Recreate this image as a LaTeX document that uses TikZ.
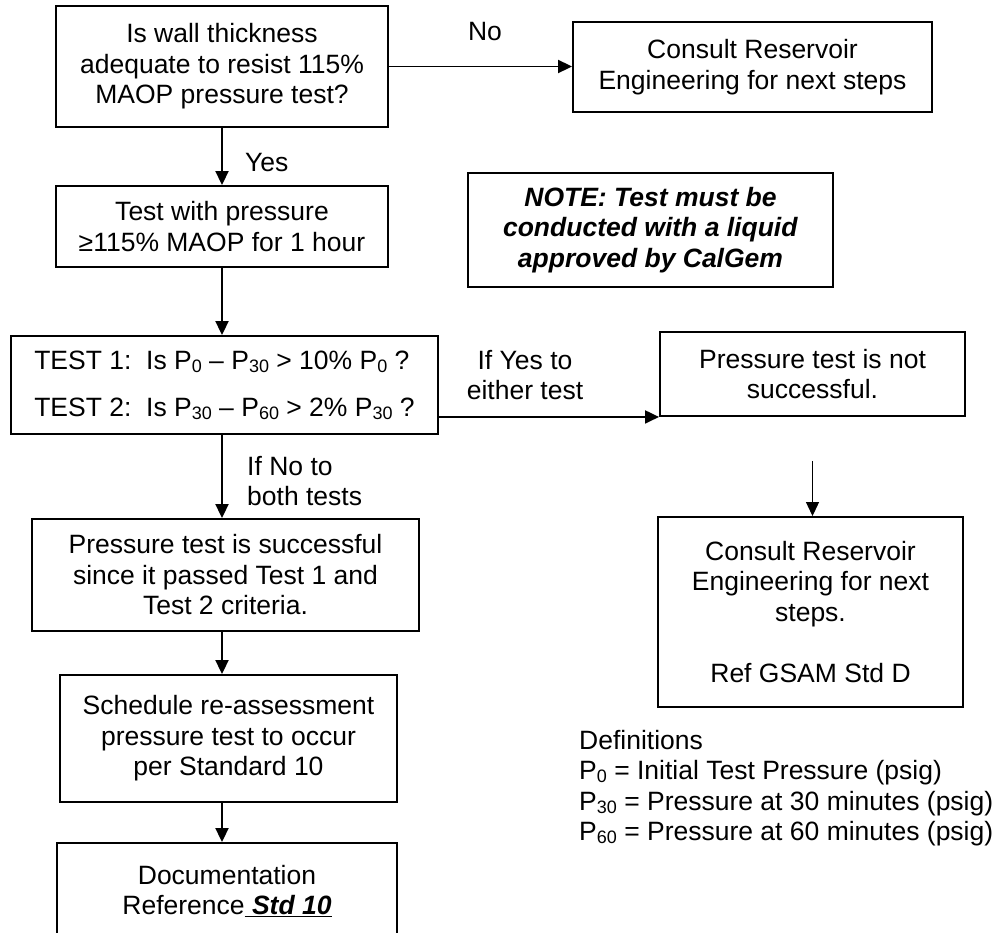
\documentclass[tikz,border=0pt]{standalone}
\usepackage{fontspec}
\setmainfont{Liberation Sans}
\usetikzlibrary{arrows.meta}

% small lowered figures for pressure subscripts
\newcommand\sbs[1]{\raisebox{-3pt}{\fontsize{18}{18}\selectfont #1}}

\begin{document}
\begin{tikzpicture}[x=1pt,y=-1pt,
  txt/.style={font=\fontsize{26.5}{30.5}\selectfont, inner sep=0pt},
  box/.style={txt, draw, line width=1.9pt, align=center},
  lbl/.style={txt, align=center},
  flow/.style={line width=1.9pt, -{Triangle[length=14pt,width=13pt]}},
  thinflow/.style={line width=1.1pt, -{Triangle[length=14pt,width=13pt]}}]

\clip (0,0) rectangle (995,932);
\fill[white] (0,0) rectangle (995,932);

% main column
\node[box, minimum width=332pt, minimum height=121pt] (wall) at (222,66.5)
  {Is wall thickness\\adequate to resist 115\%\\MAOP pressure test?};
\node[box, minimum width=332pt, minimum height=81pt] (hold) at (222,226.5)
  {Test with pressure\\≥115\% MAOP for 1 hour};
\node[box, align=left, minimum width=427pt, minimum height=98pt] (tests) at (224.5,385)
  {TEST 1:\ \ Is P\sbs{0} – P\sbs{30} > 10\% P\sbs{0} ?\\[16.5pt]TEST 2:\ \ Is P\sbs{30} – P\sbs{60} > 2\% P\sbs{30} ?};
\node[box, minimum width=387pt, minimum height=112pt] (pass) at (225.5,575)
  {Pressure test is successful\\since it passed Test 1 and\\Test 2 criteria.};
\node[box, minimum width=337pt, minimum height=127pt] (sched) at (228.5,738.5)
  {Schedule re-assessment\\pressure test to occur\\per Standard 10};
\node[box, minimum width=340pt, minimum height=96pt] (docs) at (227,891)
  {Documentation\\Reference\underline{\textbf{\textit{\ Std 10}}}};

% right column
\node[box, minimum width=359pt, minimum height=90pt] (consultA) at (752.5,67)
  {Consult Reservoir\\Engineering for next steps};
\node[box, minimum width=365pt, minimum height=114pt] (note) at (650.5,230)
  {\textbf{\textit{NOTE: Test must be}}\\\textbf{\textit{conducted with a liquid}}\\\textbf{\textit{approved by CalGem}}};
\node[box, minimum width=305pt, minimum height=84pt] (fail) at (812.5,374)
  {Pressure test is not\\successful.};
\node[box, minimum width=305pt, minimum height=190pt] (consultB) at (810.5,612)
  {Consult Reservoir\\Engineering for next\\steps.\\[30.5pt]Ref GSAM Std D};

% definitions
\node[txt, align=left, anchor=north west] (defs) at (579,730)
  {Definitions\\P\sbs{0} = Initial Test Pressure (psig)\\P\sbs{30} = Pressure at 30 minutes (psig)\\P\sbs{60} = Pressure at 60 minutes (psig)};

% connectors
\coordinate (failOut) at ([yshift=-44pt]fail.south);
\draw[flow] (wall.east) -- (wall.east -| consultA.west);
\node[lbl] (noLbl) at (485,32) {No};
\draw[flow] (wall.south) -- (hold.north);
\node[lbl, anchor=west] (yesLbl) at (245,163) {Yes};
\draw[flow] (hold.south) -- (hold.south |- tests.north);
\draw[flow] (tests.east |- fail.south west) -- (fail.south west);
\node[lbl] (yesEither) at (525,375) {If Yes to\\either test};
\draw[flow] (tests.south -| hold.south) -- (hold.south |- pass.north);
\node[lbl, anchor=west, align=left] (noBoth) at (247,481) {If No to\\both tests};
\draw[flow] (pass.south -| hold.south) -- (hold.south |- sched.north);
\draw[flow] (sched.south -| hold.south) -- (hold.south |- docs.north);
\draw[thinflow] (failOut) -- (failOut |- consultB.north);

\end{tikzpicture}
\end{document}
